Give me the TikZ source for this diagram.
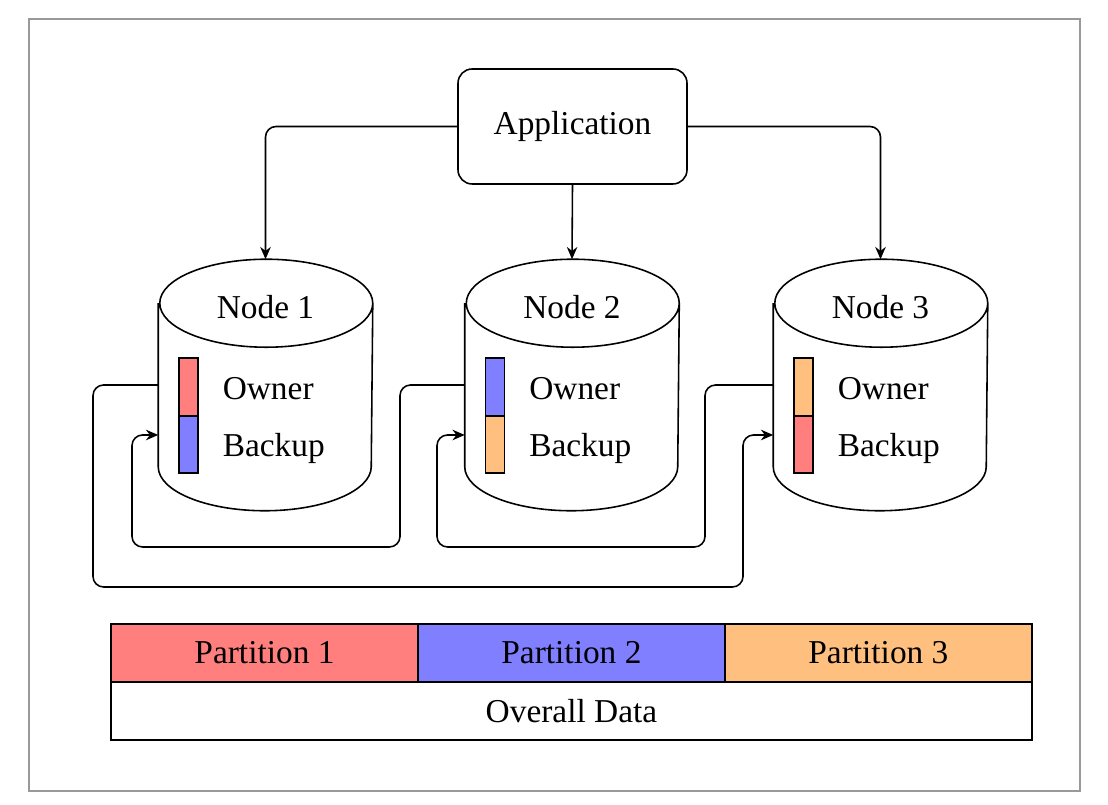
\documentclass[tikz,border=0pt]{standalone}
\usepackage{fontspec}
\setmainfont{Liberation Serif}
\usetikzlibrary{positioning,calc,arrows.meta}

\definecolor{partred}{HTML}{FF7F7F}
\definecolor{partblue}{HTML}{7F7FFF}
\definecolor{partorange}{HTML}{FFBF7F}

\tikzset{
  app/.style={draw,rounded corners=8pt,minimum width=4.58cm,minimum height=2.3cm,inner sep=0pt},
  dbnode/.style={minimum width=4.26cm,minimum height=5cm,inner sep=0pt},
  link/.style={-{Stealth[length=7pt,width=6pt]},rounded corners=6pt},
  part/.style={draw,minimum width=6.14cm,minimum height=1.16cm,inner sep=0pt,outer sep=0pt},
}

\begin{document}
\begin{tikzpicture}[x=0.02cm,y=0.02cm,line width=0.9pt,font=\fontsize{19}{23}\selectfont]

\useasboundingbox (0,0) rectangle (1108,804);
\draw[black!40,line width=0.7pt] (29,13) rectangle (1080,785);

%Application
\node[app] (app) at (572.5,677.5) {Application};

%Nodes
\foreach \i/\x/\co/\cb in {1/265.5/partred/partblue,2/572/partblue/partorange,3/880.5/partorange/partred}{
  \node[dbnode] (n\i) at (\x,419) {};
  \draw[fill=white] ($(n\i.north west)+(0,-44)$) -- ($(n\i.south west)+(0,44)$)
    arc[start angle=180,end angle=360,x radius=106.5,y radius=44]
    -- ($(n\i.north east)+(0,-44)$)
    arc[start angle=0,end angle=360,x radius=106.5,y radius=44];
  \node at ($(n\i.center)+(0,77.5)$) {Node \i};
  \draw[fill=\co,line width=0.6pt] ($(n\i.center)+(-86.5,27)$) rectangle ($(n\i.center)+(-67.5,-31)$);
  \draw[fill=\cb,line width=0.6pt] ($(n\i.center)+(-86.5,-31)$) rectangle ($(n\i.center)+(-67.5,-88)$);
  \node[anchor=base west,inner sep=0pt] (own\i) at ($(n\i.center)+(-43.5,-15)$) {Owner};
  \node[anchor=base west,inner sep=0pt] (bak\i) at ($(n\i.center)+(-43.5,-72)$) {Backup};
}

%Application to nodes
\draw[link] (app.west) -| (n1.north);
\draw[link] (app.south) -- (n2.north);
\draw[link] (app.east) -| (n3.north);

%Backups
\draw[link] (n1.west) -| (93,217) -| (743,369) -- ([yshift=-1cm]n3.west);
\draw[link] (n2.west) -| (400,257) -| (132,369) -- ([yshift=-1cm]n1.west);
\draw[link] (n3.west) -| (705,257) -| (437,369) -- ([yshift=-1cm]n2.west);

%Partitions
\node[part,fill=partred] (p1) at (264.5,151) {Partition 1};
\node[part,fill=partblue,right=0pt of p1] (p2) {Partition 2};
\node[part,fill=partorange,right=0pt of p2] (p3) {Partition 3};
\node[part,minimum width=18.42cm,below=0pt of p2] (all) {Overall Data};

\end{tikzpicture}
\end{document}
